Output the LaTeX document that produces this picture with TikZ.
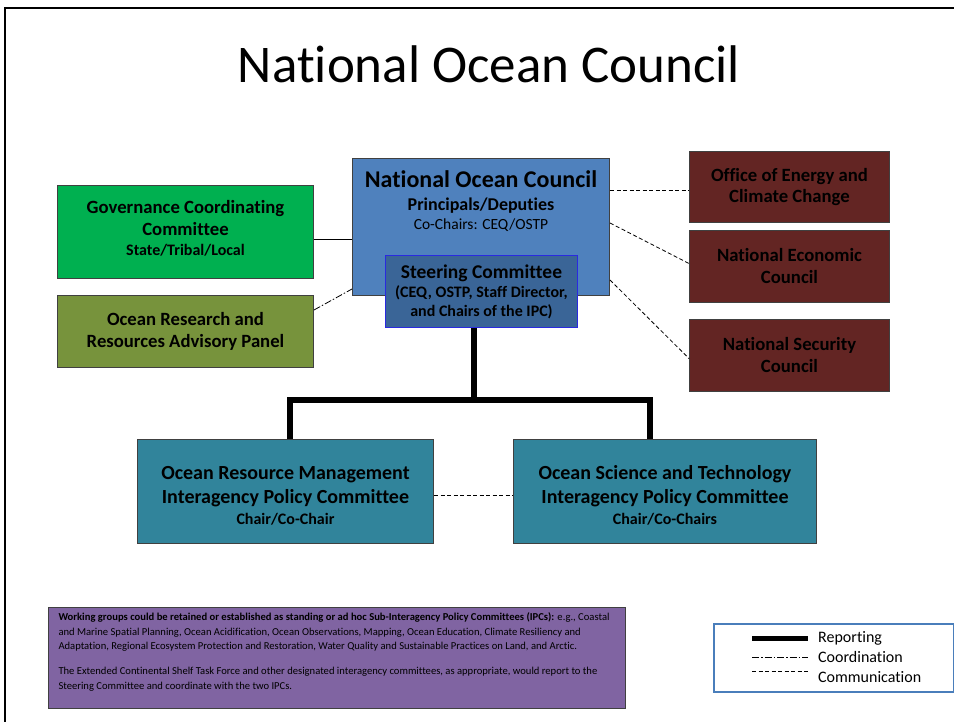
\documentclass[tikz,border=0pt]{standalone}
\usepackage{fontspec}
\setmainfont{Carlito}[Ligatures=NoCommon]
\usetikzlibrary{positioning}

\definecolor{nocblue}{HTML}{4F81BD}
\definecolor{steerblue}{HTML}{3A6597}
\definecolor{steeredge}{HTML}{2A2AE0}
\definecolor{gccgreen}{HTML}{00B050}
\definecolor{orrapolive}{HTML}{77933C}
\definecolor{whmaroon}{HTML}{632523}
\definecolor{ipcteal}{HTML}{31849B}
\definecolor{notepurple}{HTML}{8064A2}
\definecolor{legendblue}{HTML}{4A7EBB}

\newcommand{\fsz}[2]{\fontsize{#1}{#2}\selectfont}

\begin{document}
\begin{tikzpicture}
	[x=1pt, y=-1pt,
	 box/.style={draw=black!75, line width=1pt, inner sep=0pt, align=flush center, anchor=north west},
	 report/.style={line width=6pt},
	 coord/.style={line width=0.8pt, dash pattern=on 7pt off 2pt on 1.5pt off 2pt},
	 comm/.style={line width=0.8pt, dash pattern=on 4pt off 2.5pt}]
   \useasboundingbox (0,0) rectangle (954,722);
   \draw[line width=2pt] (5,722) -- (5,8) -- (954,8);

   \node[anchor=base, font=\fsz{53}{64}] (title) at (489,83) {National Ocean Council};

   % council and steering committee
   \node[box, fill=nocblue, minimum width=257, minimum height=137] (noc) at (352,158)
      {\parbox[c][137pt][t]{257pt}{\centering\bfseries
       \fsz{24}{29}\rule{0pt}{29pt}National Ocean Council\par
       \fsz{18}{23}Principals/Deputies\par
       \fsz{15.5}{19}\mdseries Co-Chairs: CEQ/OSTP\par}};
   \node[box, fill=steerblue, draw=steeredge, minimum width=192, minimum height=72, text width=190,
         font=\bfseries\fsz{19.5}{21}] (steer) at (385,255)
      {Steering Committee\\{\fsz{16}{19}(CEQ, OSTP, Staff Director,\\[-2pt]and Chairs of the IPC)}};

   % left side
   \node[box, fill=gccgreen, minimum width=256, minimum height=93, text width=250,
         font=\bfseries\fsz{18.7}{22}] (gcc) at (57,185)
      {Governance Coordinating\\Committee\\[-2pt]{\fsz{16}{20}State/Tribal/Local\rule[-9pt]{0pt}{9pt}}};
   \node[box, fill=orrapolive, minimum width=256, minimum height=72, text width=250,
         font=\bfseries\fsz{18.7}{22}] (orrap) at (57,295)
      {Ocean Research and\\Resources Advisory Panel};

   % right side
   \node[box, fill=whmaroon, minimum width=200, minimum height=71, text width=196,
         font=\bfseries\fsz{18.7}{21}] (oecc) at (689,151)
      {Office of Energy and\\Climate Change};
   \node[box, fill=whmaroon, minimum width=200, minimum height=72, text width=196,
         font=\bfseries\fsz{18.7}{22}] (nec) at (689,230)
      {National Economic\\Council};
   \node[box, fill=whmaroon, minimum width=200, minimum height=72, text width=196,
         font=\bfseries\fsz{18.7}{22}] (nsc) at (689,319)
      {National Security\\Council};

   % policy committees
   \node[box, fill=ipcteal, minimum width=296, minimum height=104, text width=292,
         font=\bfseries\fsz{20}{24}] (orm) at (137,439)
      {\rule{0pt}{22.5pt}Ocean Resource Management\\Interagency Policy Committee\\[-3pt]{\fsz{16}{21}Chair/Co-Chair}};
   \node[box, fill=ipcteal, minimum width=303, minimum height=104, text width=299,
         font=\bfseries\fsz{20}{24}] (ost) at (513,439)
      {\rule{0pt}{22.5pt}Ocean Science and Technology\\Interagency Policy Committee\\[-3pt]{\fsz{16}{21}Chair/Co-Chairs}};

   \node[box, fill=notepurple, minimum width=577, minimum height=101] (note) at (48,607)
      {\parbox[c][101pt][t]{557pt}{\raggedright\fsz{10.6}{14.5}\rule{0pt}{13pt}%
       \textbf{Working groups could be retained or established as standing or ad hoc Sub-Interagency Policy Committees (IPCs):} e.g., Coastal\\
       and Marine Spatial Planning, Ocean Acidification, Ocean Observations, Mapping, Ocean Education, Climate Resiliency and\\
       Adaptation, Regional Ecosystem Protection and Restoration, Water Quality and Sustainable Practices on Land, and Arctic.\par
       \vspace{10.5pt}
       The Extended Continental Shelf Task Force and other designated interagency committees, as appropriate, would report to the\\
       Steering Committee and coordinate with the two IPCs.\par}};

   % links
   \draw[line width=0.9pt] ([yshift=-7]gcc.east) -- ([yshift=-7]gcc.east -| noc.west);
   \draw[coord] ([yshift=-15]orrap.north east) -- ([yshift=7]noc.south west);
   \draw[comm] ([yshift=-3.5]oecc.west -| noc.east) -- ([yshift=-3.5]oecc.west);
   \draw[comm] ([yshift=-65]noc.north east) -- ([yshift=3]nec.west);
   \draw[comm] ([yshift=16]noc.south east) -- ([yshift=-3]nsc.west);
   \draw[comm] ([yshift=-4]orm.east) -- ([yshift=-4]orm.east -| ost.west);
   \draw[report] ([xshift=-8]steer.south) -- ++(0,72) coordinate (split);
   \draw[report] ([xshift=4]orm.north) |- (split) -| ([xshift=-15.5]ost.north);

   % legend
   \node[draw=legendblue, line width=1.5pt, minimum width=240, minimum height=68, anchor=north west, inner sep=0pt] (legend) at (713,623) {};
   \node[anchor=west, font=\fsz{16}{18}, inner sep=0pt] (lrep) at (818,638) {Reporting};
   \node[font=\fsz{16}{18}, inner sep=0pt] (lcoord) [below=19pt of lrep.west, anchor=west] {Coordination};
   \node[font=\fsz{16}{18}, inner sep=0pt] (lcomm) [below=20pt of lcoord.west, anchor=west] {Communication};
   \draw[report, line width=5pt] ([xshift=-66pt]lrep.west) -- ([xshift=-10pt]lrep.west);
   \draw[coord] ([xshift=-66pt]lcoord.west) -- ([xshift=-10pt]lcoord.west);
   \draw[comm] ([xshift=-66pt,yshift=6pt]lcomm.west) -- ([xshift=-10pt,yshift=6pt]lcomm.west);
\end{tikzpicture}
\end{document}
